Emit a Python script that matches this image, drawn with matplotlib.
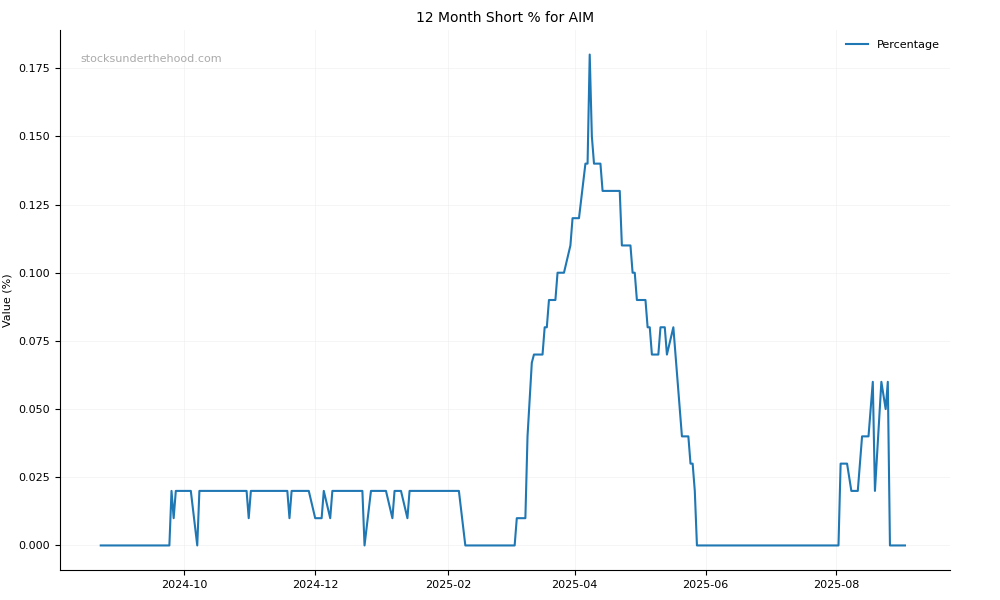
import matplotlib
matplotlib.use("Agg")
import matplotlib.pyplot as plt
import matplotlib.dates as mdates
import pandas as pd

dates = ["2024-08-23","2024-09-24","2024-09-25","2024-09-26","2024-09-27","2024-10-04","2024-10-07","2024-10-08",
 "2024-10-30","2024-10-31","2024-11-01","2024-11-18","2024-11-19","2024-11-20","2024-11-28","2024-12-01","2024-12-04",
 "2024-12-05","2024-12-08","2024-12-09","2024-12-23","2024-12-24","2024-12-27","2025-01-03","2025-01-06","2025-01-07",
 "2025-01-10","2025-01-13","2025-01-14","2025-02-06","2025-02-09","2025-03-04","2025-03-05","2025-03-09","2025-03-10",
 "2025-03-12","2025-03-13","2025-03-17","2025-03-18","2025-03-19","2025-03-20","2025-03-23","2025-03-24","2025-03-27",
 "2025-03-30","2025-03-31","2025-04-03","2025-04-06","2025-04-07","2025-04-08","2025-04-09","2025-04-10","2025-04-13",
 "2025-04-14","2025-04-22","2025-04-23","2025-04-27","2025-04-28","2025-04-29","2025-04-30","2025-05-04","2025-05-05",
 "2025-05-06","2025-05-07","2025-05-10","2025-05-11","2025-05-13","2025-05-14","2025-05-17","2025-05-21","2025-05-24",
 "2025-05-25","2025-05-26","2025-05-27","2025-05-28","2025-08-02","2025-08-03","2025-08-06","2025-08-08","2025-08-11",
 "2025-08-13","2025-08-16","2025-08-18","2025-08-19","2025-08-22","2025-08-24","2025-08-25","2025-08-26","2025-09-02"]
values = [0,0,0.02,0.01,0.02,0.02,0,0.02,
 0.02,0.01,0.02,0.02,0.01,0.02,0.02,0.01,0.01,
 0.02,0.01,0.02,0.02,0,0.02,0.02,0.01,0.02,
 0.02,0.01,0.02,0.02,0,0,0.01,0.01,0.04,
 0.067,0.07,0.07,0.08,0.08,0.09,0.09,0.10,0.10,
 0.11,0.12,0.12,0.14,0.14,0.18,0.15,0.14,0.14,
 0.13,0.13,0.11,0.11,0.10,0.10,0.09,0.09,0.08,
 0.08,0.07,0.07,0.08,0.08,0.07,0.08,0.04,0.04,
 0.03,0.03,0.02,0,0,0.03,0.03,0.02,0.02,
 0.04,0.04,0.06,0.02,0.06,0.05,0.06,0,0]

x = pd.to_datetime(dates)
fig, ax = plt.subplots(figsize=(10, 6), dpi=100)
fig.subplots_adjust(left=0.06, right=0.95, top=0.95, bottom=0.05)
ax.plot(x, values, color="#1f77b4", linewidth=1.5, label="Percentage")
ax.set_title("12 Month Short % for AIM", fontsize=10)
ax.set_ylabel("Value (%)", fontsize=8)
ax.xaxis.set_major_locator(mdates.MonthLocator(bymonth=[2,4,6,8,10,12]))
ax.xaxis.set_major_formatter(mdates.DateFormatter("%Y-%m"))
ax.set_yticks([0,0.025,0.05,0.075,0.1,0.125,0.15,0.175])
ax.tick_params(labelsize=8)
ax.grid(True, color="#eeeeee", linewidth=0.6, alpha=0.7)
ax.spines["top"].set_visible(False)
ax.spines["right"].set_visible(False)
ax.set_ylim(-0.009, 0.189)
ax.set_xlim(pd.Timestamp("2024-08-04"), pd.Timestamp("2025-09-23"))
ax.text(0.023, 0.955, "stocksunderthehood.com", transform=ax.transAxes, fontsize=8, color="#aaaaaa", va="top")
ax.legend(loc="upper right", fontsize=8, frameon=False)
fig.savefig("out.png")
